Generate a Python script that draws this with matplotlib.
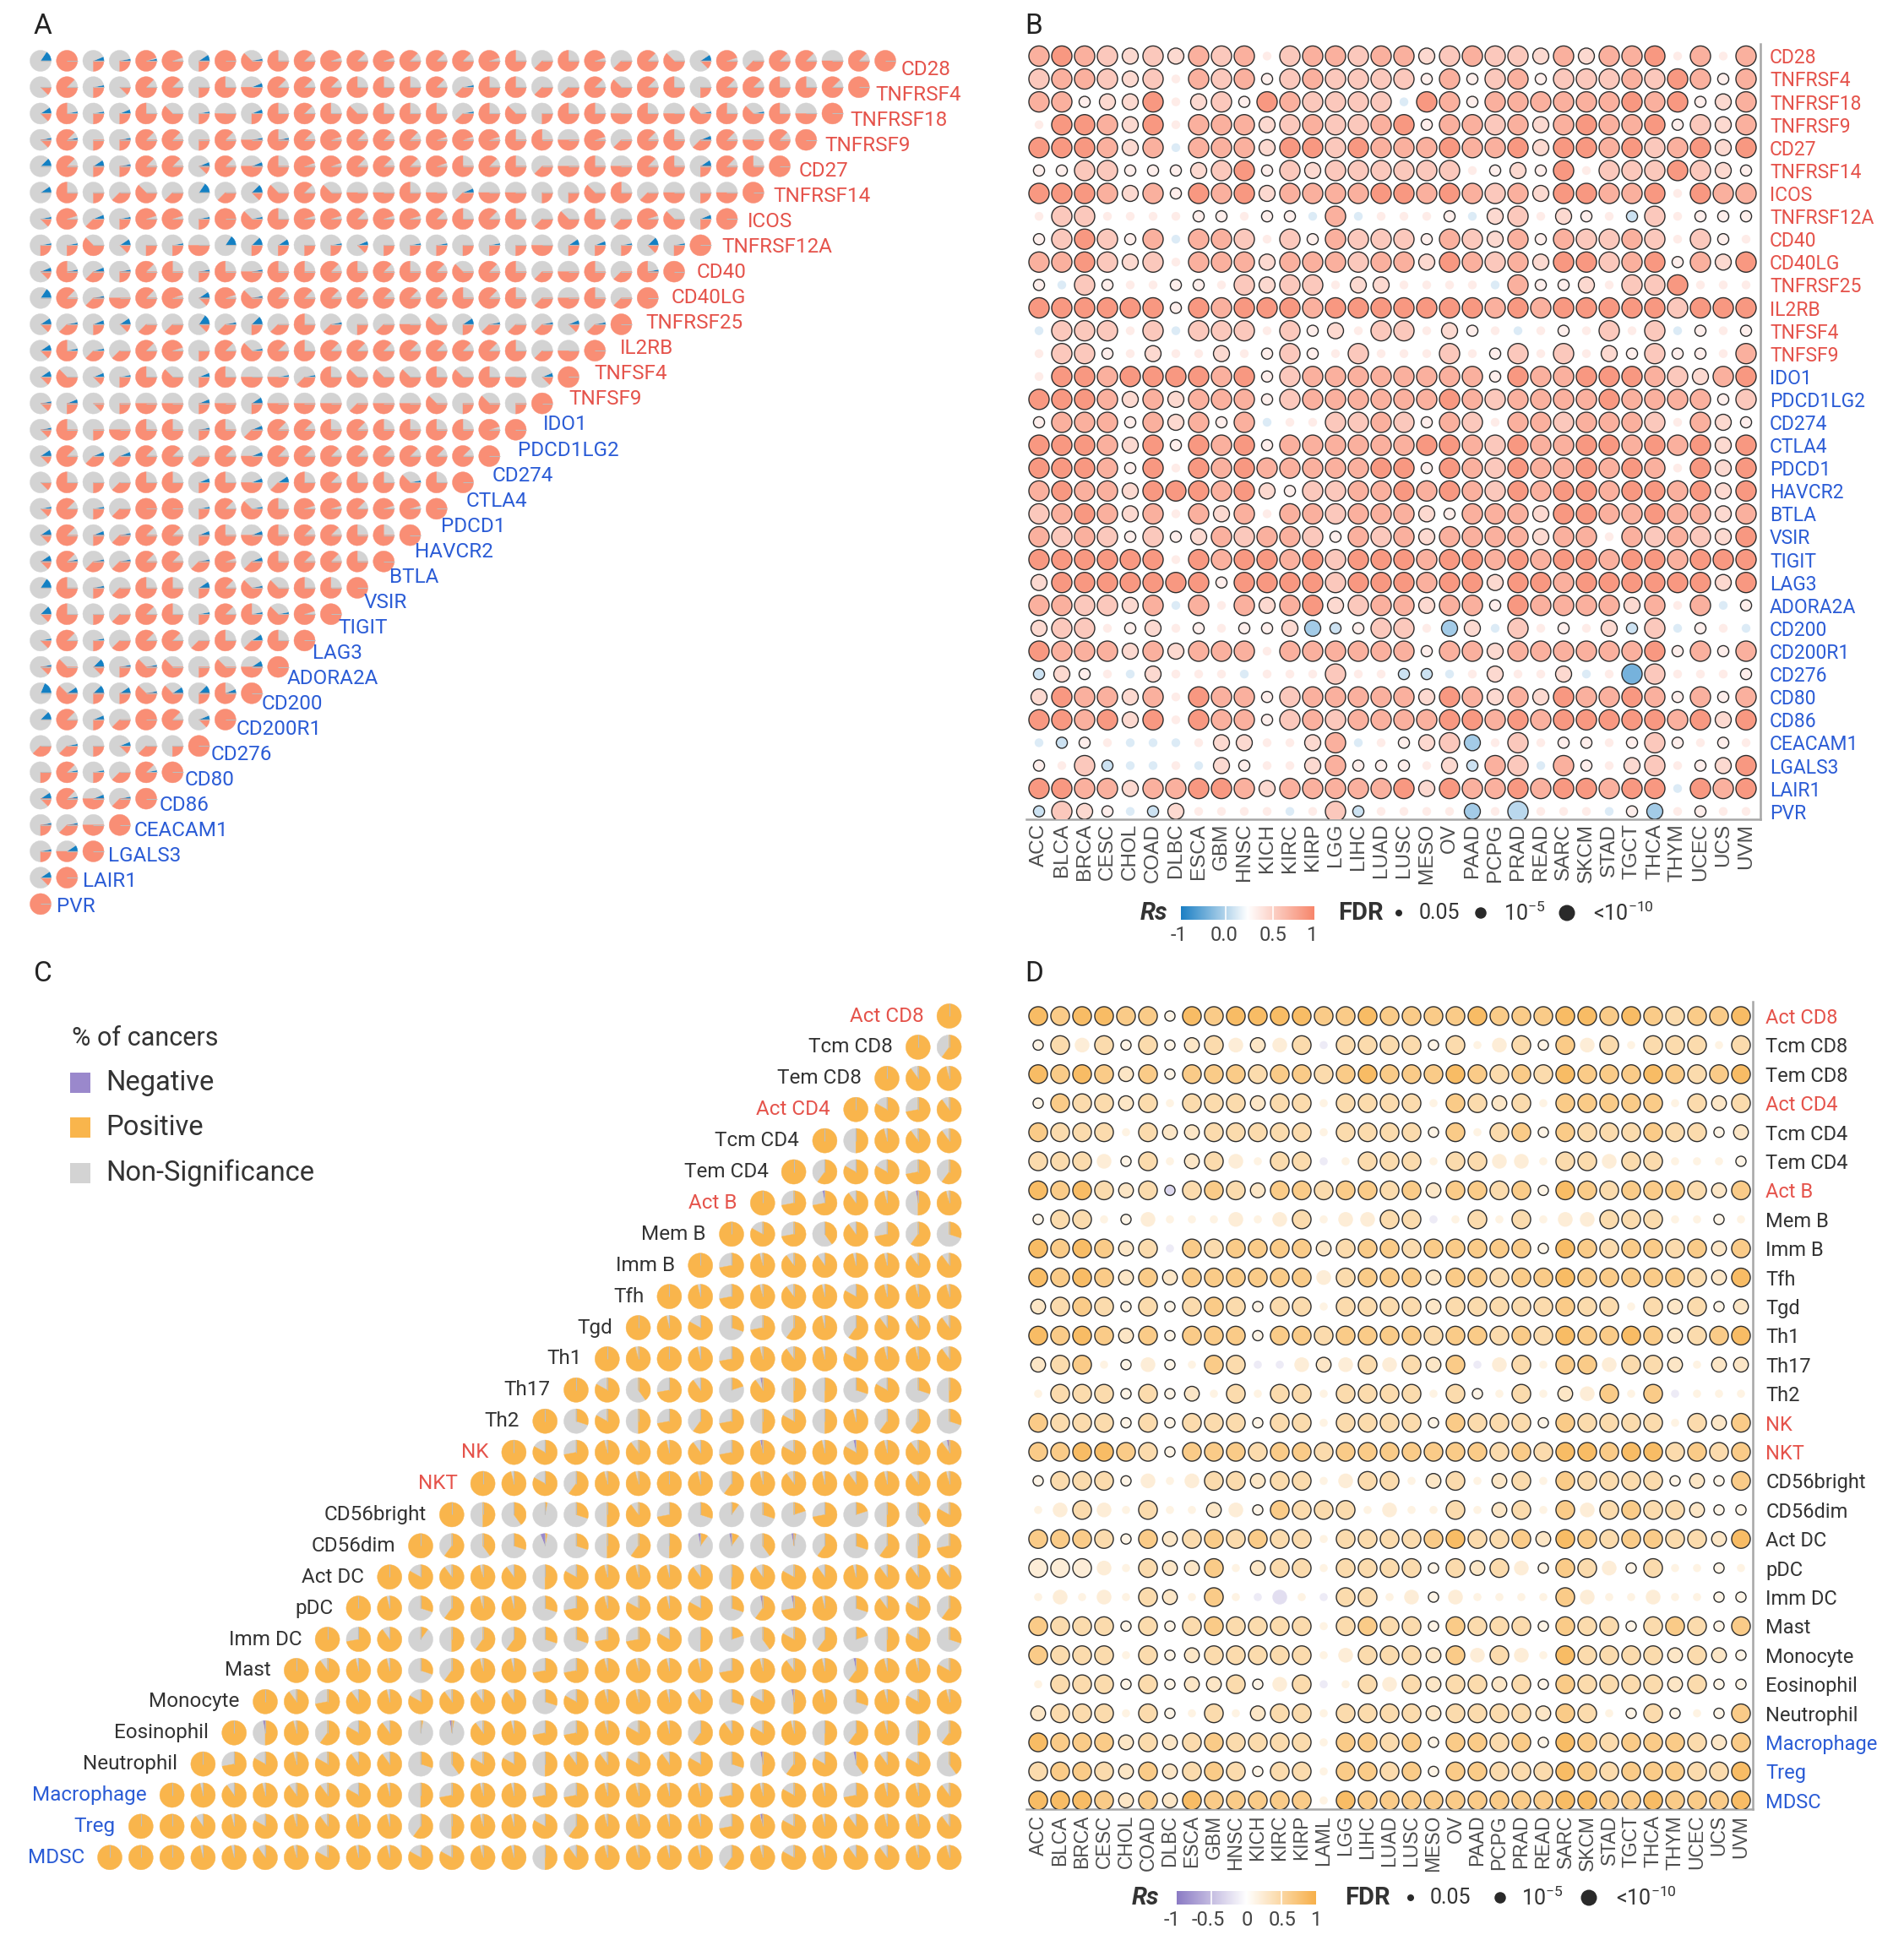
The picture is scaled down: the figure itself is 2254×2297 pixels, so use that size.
import math
import numpy as np
import matplotlib
matplotlib.use("Agg")
import matplotlib.pyplot as plt
from matplotlib.patches import Wedge, Rectangle, Circle
from matplotlib.colors import LinearSegmentedColormap, Normalize

plt.rcParams['font.family'] = ['Roboto', 'DejaVu Sans']
plt.rcParams['mathtext.fontset'] = 'custom'
plt.rcParams['mathtext.rm'] = 'Roboto'
plt.rcParams['mathtext.it'] = 'Roboto:italic'
plt.rcParams['mathtext.bf'] = 'Roboto:bold'

# ======================= DATA =======================
GENES = ["CD28", "TNFRSF4", "TNFRSF18", "TNFRSF9", "CD27", "TNFRSF14", "ICOS",
         "TNFRSF12A", "CD40", "CD40LG", "TNFRSF25", "IL2RB", "TNFSF4", "TNFSF9",
         "IDO1", "PDCD1LG2", "CD274", "CTLA4", "PDCD1", "HAVCR2", "BTLA", "VSIR",
         "TIGIT", "LAG3", "ADORA2A", "CD200", "CD200R1", "CD276", "CD80", "CD86",
         "CEACAM1", "LGALS3", "LAIR1", "PVR"]
N_STIMULATORY = 14

CANCERS_B = ["ACC", "BLCA", "BRCA", "CESC", "CHOL", "COAD", "DLBC", "ESCA", "GBM",
             "HNSC", "KICH", "KIRC", "KIRP", "LGG", "LIHC", "LUAD", "LUSC", "MESO",
             "OV", "PAAD", "PCPG", "PRAD", "READ", "SARC", "SKCM", "STAD", "TGCT",
             "THCA", "THYM", "UCEC", "UCS", "UVM"]
CANCERS_D = ["ACC", "BLCA", "BRCA", "CESC", "CHOL", "COAD", "DLBC", "ESCA", "GBM",
             "HNSC", "KICH", "KIRC", "KIRP", "LAML", "LGG", "LIHC", "LUAD", "LUSC",
             "MESO", "OV", "PAAD", "PCPG", "PRAD", "READ", "SARC", "SKCM", "STAD",
             "TGCT", "THCA", "THYM", "UCEC", "UCS", "UVM"]

CELLS = ["Act CD8", "Tcm CD8", "Tem CD8", "Act CD4", "Tcm CD4", "Tem CD4", "Act B",
         "Mem B", "Imm B", "Tfh", "Tgd", "Th1", "Th17", "Th2", "NK", "NKT",
         "CD56bright", "CD56dim", "Act DC", "pDC", "Imm DC", "Mast", "Monocyte",
         "Eosinophil", "Neutrophil", "Macrophage", "Treg", "MDSC"]
CELLS_RED = ["Act CD8", "Act CD4", "Act B", "NK", "NKT"]
CELLS_BLUE = ["Macrophage", "Treg", "MDSC"]

# Panel A: share of cancers with positive correlation (code -> eighths, Y ~ 0.95)
A_POS = [
    "0822YY2856" "7Y7Y777Y63" "6Y3751Y377" "478",
    "1721772647" "7766673663" "3757627766" "78",
    "1622652426" "7656663652" "6646456564" "8",
    "1722772746" "7Y777YYY66" "4Y37637478",
    "0722771746" "YY777Y6763" "464762768",
    "0623530315" "7544643442" "25634248",
    "1Y32YY2856" "YY7YY76763" "563Y528",
    "2251224022" "2212222224" "222128",
    "1632762646" "6767675763" "46368",
    "07347Y1Y57" "7777776763" "4638",
    "1321331323" "6323452333" "138",
    "16337Y2757" "6777777763" "48",
    "1512652644" "3655565641" "8",
    "1212442424" "4434452528",
    "1624662637" "7676666Y8",
    "1733773747" "77777778",
    "1623662643" "6766568",
    "1723882756" "YY7YY8",
    "1723772646" "77668",
    "1733773Y36" "7768",
    "0623662755" "668",
    "1623762765" "Y8",
    "1723773636" "8",
    "1512552548",
    "052255268",
    "07238718",
    "3321328",
    "272378",
    "17438",
    "2348",
    "248",
    "18",
    "8",
]
# Panel A: number of cancers (of 32) with negative correlation
A_NEG = [
    "5021103010" "0000000000" "0000030000" "000",
    "0010000020" "0000001000" "0000000000" "00",
    "3112001020" "0000001000" "0000010100" "0",
    "1101000011" "0000000000" "0000020000",
    "4031002020" "0000000000" "000003000",
    "3000005040" "0000002000" "00000000",
    "1021001010" "0000000000" "0000020",
    "1103010543" "0120110100" "321410",
    "2121001010" "0000000000" "00010",
    "5010003010" "0000000000" "0000",
    "3123005140" "0100003101" "210",
    "3110000010" "0000000000" "00",
    "3021002001" "1000000002" "0",
    "1200002030" "0000000000",
    "1000001020" "000000000",
    "3022000020" "00000000",
    "0000002023" "0000100",
    "1010001010" "000000",
    "3021002020" "00000",
    "3111001020" "0000",
    "5010003010" "000",
    "4000001011" "00",
    "1010000030" "0",
    "1041100030",
    "634313420",
    "40200020",
    "0102000",
    "011010",
    "31210",
    "1100",
    "130",
    "30",
    "0",
]
A_CODE = {'0': 0.0, '1': 0.125, '2': 0.25, '3': 0.375, '4': 0.5, '5': 0.625,
          '6': 0.75, '7': 0.875, '8': 1.0, 'Y': 0.95}
A_N_CANCERS = 32

# Panel C: share of cancers with positive correlation (tenths, Y ~0.96, X = 1)
C_POS = [
    "X", "X6", "X9Y", "X879", "X5Y99", "X68876", "X779Y5Y", "X8749763",
    "X7Y99YY99", "XY7Y9Y8YYY", "XY8376Y6999", "XYXY7Y9Y8YY9", "X847929553835",
    "X385767585Y663", "X87Y9Y97Y8Y8Y99", "XY86YYXY6Y9Y9Y9Y", "X5403597313272548",
    "X64303565114063657", "X89Y958YYY95989Y999", "XY36YY37Y8Y8367Y3986",
    "X79156633778524862583", "X9YY36YY77YYYY7Y9Y6YY8", "X979Y899938YYY9385Y3Y8Y",
    "X5Y689009Y77Y8Y698Y56Y56", "X78Y899348859989835684984",
    "XY9Y998Y57YY77YYYY7Y8Y7YY9", "XX9Y8Y9YY65YY86YYYY7Y8Y9YY9",
    "XXXYY9Y8YY88YY59YYYY6Y8Y99YY",
]
C_CODE = {'X': 1.0, 'Y': 0.96, '0': 0.03, '1': 0.1, '2': 0.2, '3': 0.3, '4': 0.4,
          '5': 0.5, '6': 0.6, '7': 0.72, '8': 0.83, '9': 0.9}
# (row, position in row, number of cancers with negative correlation)
C_NEG_CELLS = [(6, 2, 1), (6, 5, 1), (12, 6, 1), (14, 8, 1), (14, 11, 1), (14, 14, 1),
               (17, 4, 2), (17, 9, 1), (17, 10, 1), (17, 12, 1), (19, 13, 1),
               (19, 14, 1), (21, 18, 1), (22, 17, 1), (23, 1, 1), (23, 7, 1),
               (24, 18, 1), (24, 21, 1), (26, 20, 1)]
C_N_CANCERS = 33

# Panel B: gene x cancer, code -> (Rs, FDR, significant)
B_CELLS = [
    "LDLlmlmLlL" ".lLLlLLmlL" "llmLmLLD.L" ".L",
    "lLLlml.LlL" "slLllllsLs" "lLslllLlDL" "sL",
    "LLsmmD.mls" "DLllll,DLs" "LLLLLLDLDs" "mL",
    ".DDLmD.LLL" "mlLllLDsLL" "lLmLDLLDsl" "mL",
    "DDDLmL,LLL" "mDDlDLLLDL" "LDmDDLDlLD" "mD",
    "ssllsssmlD" "slmllllll." "smsD.lllDl" "ms",
    "DDDLmLsDLD" "mLLLLDDLDL" "lLmDDLLD.D" "LL",
    ".ll....ss." "ss,L,...s," "ml.ms.xl.s" "ss",
    "slDlsL,LLl" ".lsLlllsLl" "mLsLllLl.l" "s.",
    "LLDlml.LLL" "mLLLlLLmDL" "lLmDDlLDsL" "mD",
    "s,ls..ss.l" "mll.mm...." ",Lssm.llD." "..",
    "DDDDDDsDLD" "DDLDDDDDDD" "LDLDDDDDlD" "DD",
    ",lll.l,lll" ".lsm.ll.ms" ".,.s.l.l,s" ".s",
    ".lls.m..m." "sls.l...l." "sl.l.mslss" ".L",
    ".DDLDDDDLD" "slLLLLLLLL" "sDLLDDDLlm" "LD",
    "DDDLmLmLLL" "slLLLLLLDL" "lLLLLDLLLL" "sl",
    "sLLLsLmLsL" ",..llLlsLl" ".LLlLLLl.L" "ms",
    "DDDLmDsDLD" "sLLLLLLDDL" "lDLLDDLDLD" "mD",
    "DDDLsD.DLD" "LLLLLDDsDL" "lDLLDLDL.D" "mD",
    "LDLLmDDDLD" "msllLLDLDL" "lDLDDLDDLD" "mD",
    "lLDLmL.LmL" ".LLlLLLmsL" "LLmDDLLDLL" "mL",
    "LlLlslsmLl" "LLlsLlLmLL" "LLmLL.LlLl" "mD",
    "DDDDDD.DLD" "DLDlDDDLDD" "LDLDDLDDLD" "DD",
    "mDDDDDDDsD" "DDDlDDDLDD" "mDDLDDDDDD" "mD",
    "LLllmL,L.L" "mLDmlLLmLL" "sDLLLLmL.L" ",s",
    "mll.sm.s.s" "smyxsll.ym" ",l.s.mxl,s" ".,",
    "DLLLmLmLLL" ".LLLLLLsLL" "mLLLLLLDsL" "sL",
    "xms.,m...," "...l..xx,." "m..m,.zl.." ".s",
    "mDLLmL.DLL" "slLLLLLmDL" "mLmDLLDLsL" "sL",
    "DDLDmD.DLL" "slLlLLLLDD" "LDLDDDDDLD" "mD",
    ",xs.,,,.mm" "..mL,.smly" ".l.ss.sls." "s.",
    "s.lx,,.,ms" "..mLsss.mx" "Ll,Ls.ml.s" "mD",
    "DDLLmLLDDL" "mLLLLLDmDL" "LDLDDLDD,D" "LD",
    "xlms,xm..." ".,.lx....y" ".w...,sy.s" "..",
]
B_CODE = {'.': (0.15, 0.3, 0), ',': (-0.15, 0.3, 0), 's': (0.14, 1e-2, 1),
          'm': (0.32, 1e-6, 1), 'l': (0.45, 1e-12, 1), 'L': (0.65, 1e-12, 1),
          'D': (0.85, 1e-12, 1), 'x': (-0.22, 1e-2, 1), 'y': (-0.4, 1e-6, 1),
          'w': (-0.3, 1e-12, 1), 'z': (-0.6, 1e-12, 1)}

# Panel D: cell type x cancer
D_CELLS = [
    "DLDDLLsDLD" "DDDLLDLLLL" "DLLLDDLDLl" "LLD",
    "sl:lslsml:" "m:l,llllsl" ".:lsL:l.ll" "l.l",
    "DLDLmLsLLL" "lLLlLDLLLD" "LlLlDLLLDL" "lLD",
    "sLllml.lll" "mll.llll.L" "lml.LLLLL." "lml",
    "Llll.lmmll" "lll.llllsL" ".lLsLlllLl" "lsm",
    "lll:sl.ml:" ".ll,.lll.l" "l::.ll:ll." "..s",
    "DLDlmlxlLl" "mLLlLLlLmL" "LlLsDLlLLL" "lmL",
    "sll.s:...:" ".:l.::ll,." "l.l.::lll." ".s.",
    "DLDLml,LlL" "LLLmlLLlLL" "LLLsDLlLLl" "LmL",
    "DLDLmLmLLL" "LLL:lLLLmL" "LlLLDLLLLL" "lmD",
    "mlLlslslLl" "sll.llllml" "llllLll.lm" "lsm",
    "DLDLmLsLLL" "sLLlLLLLlL" "LlLlDLLDLm" "lLD",
    "mlL.s:s.Ll" ",,:m:l:lmL" ",:l.LL:llm" ".mm",
    ".lllslsm.l" ".ll.llll.l" "s.l.m:L.L," "...",
    "Llllslslll" "sll.llllsL" "lllsLllll." "lmL",
    "LLDDLlsLLL" "lLLlLLLLLL" "LlLlDDLDDl" "LlL",
    "sllls:.:ll" "mll.:ll.ml" ".ml.Llllls" "msL",
    ".:l:.l..m:" "sLlll.:..l" ".ml.L:lLll" "mss",
    "LLLlsLmlLl" "Lll.llllLD" "llLmDLlLLl" "lmD",
    "ppp:.lmmL." "mll.llllsl" "ml:sLl:sl." ".s.",
    ".:.:.lm.L." ",;.,ll.:s:" "....L:..:." ".ss",
    "LlllslslLl" "lll.lLllsL" "lllsLllslL" "lsL",
    "Llll.lsmll" "lll.:lllmL" ":l:.Dllllm" "lms",
    ".lllslsmml" "s:l,.l:lml" "lmlsLllllm" "lss",
    "mlll.ls.l." "mll.llllml" "lllmLl.sls" ".sL",
    "DLLLmlmlLl" "lll.LLlLsL" "LlLsDLlLLL" "lmL",
    "lLLlmLmlLl" "sll.LLlLsL" "LlllDLlLLL" "llD",
    "DDDLmLmDLL" "LLL.DLLLLL" "LLLLDDLLDL" "LLD",
]
D_CODE = {'.': (0.15, 0.3, 0), ',': (-0.15, 0.3, 0), ':': (0.22, 1e-6, 0),
          ';': (-0.25, 1e-6, 0), 's': (0.14, 1e-2, 1), 'm': (0.32, 1e-6, 1),
          'l': (0.45, 1e-12, 1), 'L': (0.65, 1e-12, 1), 'D': (0.85, 1e-12, 1),
          'p': (0.22, 1e-12, 1), 'x': (-0.3, 1e-2, 1)}

# ======================= STYLE =======================
W, H = 2254, 2297
RED_PIE, BLUE_PIE, GRAY_PIE = '#F98E75', '#1380C3', '#D3D3D3'
ORANGE_PIE, PURPLE_PIE = '#F9B54C', '#9A88CC'
TXT_RED, TXT_BLUE, TXT_DARK = '#E5534B', '#2B5CD6', '#333333'
TICK_GRAY = '#4D4D4D'
CMAP_B = LinearSegmentedColormap.from_list('b', [(0, '#1B7FC4'), (0.5, '#FFFFFF'), (1, '#F7866B')])
CMAP_D = LinearSegmentedColormap.from_list('d', [(0, '#8B7BC4'), (0.5, '#FFFFFF'), (1, '#F7B04A')])
NORM = Normalize(-1, 1)

fig = plt.figure(figsize=(W / 100, H / 100), dpi=100)


def px_axes(x0, y0, x1, y1, z=1):
    ax = fig.add_axes([x0 / W, 1 - y1 / H, (x1 - x0) / W, (y1 - y0) / H], zorder=z)
    ax.patch.set_alpha(0)
    return ax


def draw_pie(ax, x, y, r, fracs, colors, start, line_angle):
    ang = start
    for f, col in zip(fracs, colors):
        if f <= 0:
            continue
        ax.add_patch(Wedge((x, y), r, ang, ang + 360 * f, facecolor=col,
                           edgecolor=col, lw=0.3))
        ang += 360 * f
    a = math.radians(line_angle)
    ax.plot([x, x + r * math.cos(a)], [y, y + r * math.sin(a)], color='#BDBDBD',
            lw=0.8, solid_capstyle='butt')


def diam(fdr):
    v = min(-math.log10(fdr), 10.0)
    return 9 + 15 * (v / 10.0) ** 0.8


# ======================= PANEL A =======================
axA = px_axes(0, 0, 1150, 1130)
sx, sy = 31.25, 31.2
axA.set_xlim((0 - 48) / sx, (1150 - 48) / sx)
axA.set_ylim(-(1130 - 72) / sy, (72 - 0) / sy)
axA.axis('off')
for r, (prow, nrow) in enumerate(zip(A_POS, A_NEG)):
    for c, (pc, nc) in enumerate(zip(prow, nrow)):
        pos = A_CODE[pc]
        neg = int(nc) / A_N_CANCERS
        pos = min(pos, 1 - neg)
        ns = max(0.0, 1 - pos - neg)
        draw_pie(axA, c, -r, 0.40, [neg, ns, pos], [BLUE_PIE, GRAY_PIE, RED_PIE], 0, 0)
for k, g in enumerate(GENES):
    col = TXT_RED if k < N_STIMULATORY else TXT_BLUE
    axA.text(32.6 - 0.969 * k, -(0.34 + 0.9624 * k), g, color=col, fontsize=17.5,
             ha='left', va='center', clip_on=False)

# ======================= PANEL B =======================
axB = px_axes(1215, 52, 2084, 970)
axB.set_xlim((1215 - 1230) / 27.0, (2084 - 1230) / 27.0)
axB.set_ylim(-(970 - 66.4) / 27.1, (66.4 - 52) / 27.1)


def bubble_panel(ax, rows, code, cmap, scale, xlabels, ylabels, ycolors, label_size,
                 pad, xsize, xpad):
    xs, ys, ss, cs, ecs = [], [], [], [], []
    for r, row in enumerate(rows):
        for c, ch in enumerate(row):
            rs, fdr, sig = code[ch]
            d = diam(fdr) * scale
            xs.append(c)
            ys.append(-r)
            ss.append((d * 0.72) ** 2)
            cs.append(cmap(NORM(rs)))
            ecs.append('#2E2E2E' if sig else (0, 0, 0, 0))
    ax.scatter(xs, ys, s=ss, c=cs, edgecolors=ecs, linewidths=1.0, zorder=3)
    for sp in ['top', 'left']:
        ax.spines[sp].set_visible(False)
    for sp in ['right', 'bottom']:
        ax.spines[sp].set_color('#A6A6A6')
        ax.spines[sp].set_linewidth(1.8)
    ax.yaxis.tick_right()
    ax.set_yticks([-i for i in range(len(ylabels))])
    ax.set_yticklabels(ylabels)
    ax.tick_params(axis='y', length=0, pad=pad, labelsize=label_size)
    for t, col in zip(ax.get_yticklabels(), ycolors):
        t.set_color(col)
    ax.set_xticks(range(len(xlabels)))
    ax.set_xticklabels(xlabels, rotation=90, fontsize=xsize, family='Liberation Sans',
                       color=TICK_GRAY)
    ax.tick_params(axis='x', length=0, pad=xpad)


gene_colors = [TXT_RED if k < N_STIMULATORY else TXT_BLUE for k in range(len(GENES))]
bubble_panel(axB, B_CELLS, B_CODE, CMAP_B, 1.0, CANCERS_B, GENES, gene_colors, 16.5, 8,
             17.5, 3.5)

# ======================= PANEL C =======================
axC = px_axes(0, 1130, 1150, 2297)
cx, cy = 36.8, 36.9
axC.set_xlim((0 - 130) / cx, (1150 - 130) / cx)
axC.set_ylim(-(2297 - 1203) / cy, (1203 - 1130) / cy)
axC.axis('off')
neg_lookup = {(r, j): n for r, j, n in C_NEG_CELLS}
ncell = len(CELLS)
for r, prow in enumerate(C_POS):
    for j, pc in enumerate(prow):
        pos = C_CODE[pc]
        neg = neg_lookup.get((r, j), 0) / C_N_CANCERS
        pos = min(pos, 1 - neg)
        ns = max(0.0, 1 - pos - neg)
        draw_pie(axC, ncell - 1 - r + j, -r, 0.394, [neg, ns, pos],
                 [PURPLE_PIE, GRAY_PIE, ORANGE_PIE], 90, 90)


def cell_color(name):
    if name in CELLS_RED:
        return TXT_RED
    if name in CELLS_BLUE:
        return TXT_BLUE
    return TXT_DARK


for r, name in enumerate(CELLS):
    axC.text(ncell - 1 - r - 0.82, -r, name, color=cell_color(name), fontsize=17.5,
             ha='right', va='center', clip_on=False)

# ======================= PANEL D =======================
axD = px_axes(1215, 1186, 2075, 2142)
axD.set_xlim((1215 - 1229) / 26.0, (2075 - 1229) / 26.0)
axD.set_ylim(-(2142 - 1203) / 34.4, (1203 - 1186) / 34.4)
bubble_panel(axD, D_CELLS, D_CODE, CMAP_D, 0.92, CANCERS_D, CELLS,
             [cell_color(n) for n in CELLS], 17, 11, 16.5, 5)

# ======================= OVERLAY: letters & legends =======================
axO = fig.add_axes([0, 0, 1, 1], zorder=10)
axO.patch.set_alpha(0)
axO.axis('off')

for letter, x, y in [('A', 40, 40), ('B', 1213, 40), ('C', 40, 1162), ('D', 1213, 1162)]:
    axO.text(x, y, letter, fontsize=24, color='#222222', ha='left', va='baseline')

# C legend
axO.text(85, 1230, '% of cancers', fontsize=22, color=TXT_DARK, ha='left', va='center')
for (lab, col, yc) in [('Negative', PURPLE_PIE, 1282), ('Positive', ORANGE_PIE, 1335),
                       ('Non-Significance', GRAY_PIE, 1389)]:
    axO.add_patch(Rectangle((83, yc - 12), 24, 24, facecolor=col, edgecolor='none'))
    axO.text(125, yc, lab, fontsize=23.5, color=TXT_DARK, ha='left', va='center')


def bubble_legend(yc, rs_x, bar, ticks, tick_lines, cmap, fdr_x, dot_x, txt_x):
    axO.text(rs_x, yc, 'Rs', fontsize=21, fontweight='bold', style='italic',
             color=TXT_DARK, ha='left', va='center')
    grad = np.linspace(-1, 1, 256).reshape(1, -1)
    axO.imshow(grad, cmap=cmap, norm=NORM, aspect='auto',
               extent=(bar[0], bar[1], yc + 8, yc - 8), interpolation='bilinear')
    for tx in tick_lines:
        axO.plot([tx, tx], [yc - 8, yc + 8], color='white', lw=1.2)
    for lab, tx in ticks:
        axO.text(tx, yc + 27, lab, fontsize=17, color='#444444', ha='center', va='center')
    axO.text(fdr_x, yc, 'FDR', fontsize=21, fontweight='bold', color=TXT_DARK,
             ha='left', va='center')
    for dx, dd in zip(dot_x, [8, 13.5, 19]):
        axO.add_patch(Circle((dx, yc), dd / 2, facecolor='#2A2A2A', edgecolor='none'))
    for lab, tx in zip(['0.05', r'$10^{-5}$', r'<$10^{-10}$'], txt_x):
        axO.text(tx, yc, lab, fontsize=18, color=TXT_DARK, ha='left', va='center')


bubble_legend(1081, 1350, (1398, 1556),
              [('-1', 1396), ('0.0', 1449), ('0.5', 1507), ('1', 1553)],
              [1451, 1507], CMAP_B, 1584, [1656, 1753, 1855], [1680, 1780, 1886])
bubble_legend(2247, 1340, (1393, 1558),
              [('-1', 1388), ('-0.5', 1430), ('0', 1476), ('0.5', 1518), ('1', 1558)],
              [1434, 1517], CMAP_D, 1592, [1670, 1776, 1881], [1693, 1801, 1913])

axO.set_xlim(0, W)
axO.set_ylim(H, 0)

fig.savefig('out.png', dpi=100)
